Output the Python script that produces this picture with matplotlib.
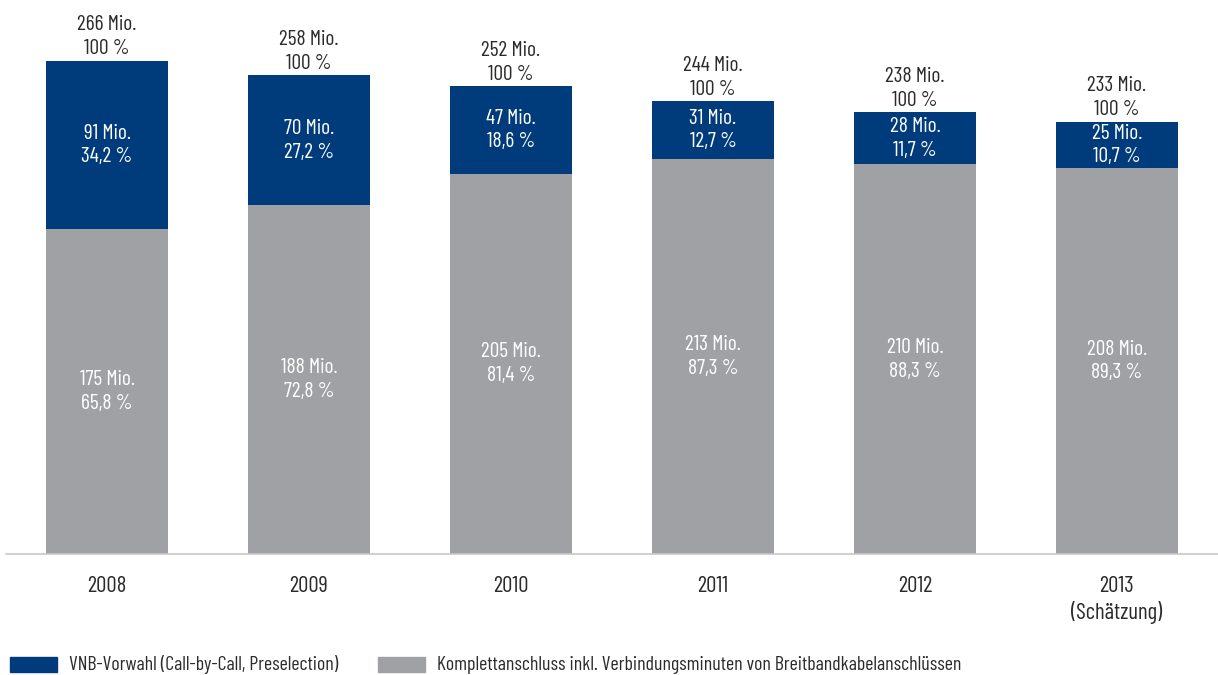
import matplotlib.pyplot as plt
from matplotlib.patches import Rectangle

years = ["2008", "2009", "2010", "2011", "2012", "2013\n(Schätzung)"]
totals = [266, 258, 252, 244, 238, 233]
vnb = [91, 70, 47, 31, 28, 25]
vnb_pct = ["34,2", "27,2", "18,6", "12,7", "11,7", "10,7"]
komplett = [175, 188, 205, 213, 210, 208]
komplett_pct = ["65,8", "72,8", "81,4", "87,3", "88,3", "89,3"]

navy = "#003b7c"
grey = "#a0a1a4"
text_col = "#2b2b2b"

plt.rcParams["font.family"] = ["Barlow Condensed", "DejaVu Sans"]
plt.rcParams["font.weight"] = 400

fig = plt.figure(figsize=(12.18, 6.75), dpi=100)
W, H = 1218, 675
# axes in pixel terms: baseline at y=554, 1.855 px per Mio.
ax = fig.add_axes([6 / W, 121 / H, 1212 / W, 538 / H])
ax.set_xlim(-0.5, 5.5)
ax.set_ylim(0, 290)

x = list(range(len(years)))
ax.bar(x, komplett, width=0.6, color=grey)
ax.bar(x, vnb, width=0.6, bottom=komplett, color=navy)

fs = 15.5
ls = 1.32
for i in x:
    ax.text(i, komplett[i] / 2, f"{komplett[i]} Mio.\n{komplett_pct[i]} %",
            ha="center", va="center", color="white", fontsize=fs, linespacing=ls)
    ax.text(i, komplett[i] + vnb[i] / 2, f"{vnb[i]} Mio.\n{vnb_pct[i]} %",
            ha="center", va="center", color="white", fontsize=fs, linespacing=ls)
    ax.annotate(f"{totals[i]} Mio.\n100 %", (i, totals[i]), xytext=(0, 2),
                textcoords="offset points", ha="center", va="bottom",
                color=text_col, fontsize=fs, linespacing=ls)

for s in ["top", "right", "left"]:
    ax.spines[s].set_visible(False)
ax.spines["bottom"].set_color("#c8c8c8")
ax.spines["bottom"].set_linewidth(1.2)
ax.set_yticks([])
ax.set_xticks(x)
ax.set_xticklabels(years, fontsize=16.5, color=text_col, linespacing=1.2)
ax.tick_params(axis="x", length=0, pad=16)

# legend drawn in figure pixel coordinates
fig.patches.append(Rectangle((10 / W, 3 / H), 47 / W, 15 / H, color=navy,
                             transform=fig.transFigure, figure=fig))
fig.text(69 / W, 10 / H, "VNB-Vorwahl (Call-by-Call, Preselection)",
         va="center", fontsize=14.3, color=text_col)
fig.patches.append(Rectangle((378 / W, 3 / H), 47 / W, 15 / H, color=grey,
                             transform=fig.transFigure, figure=fig))
fig.text(437 / W, 10 / H, "Komplettanschluss inkl. Verbindungsminuten von Breitbandkabelanschlüssen",
         va="center", fontsize=14.3, color=text_col)

fig.savefig("out.png", dpi=100)
